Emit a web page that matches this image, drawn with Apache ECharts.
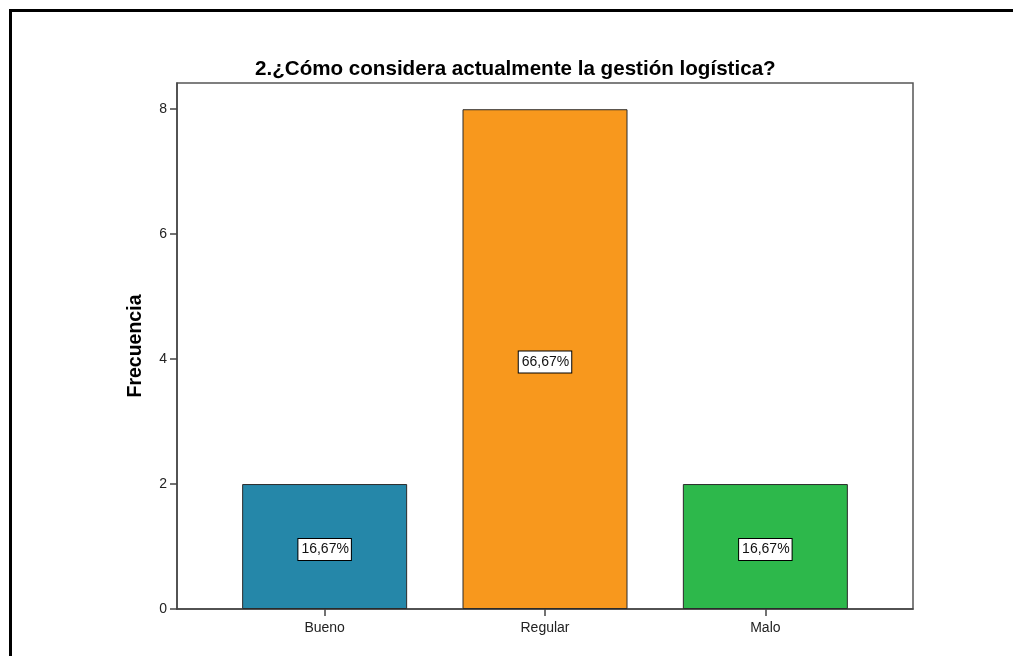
<!DOCTYPE html>
<html><head><meta charset="utf-8">
<script src="https://cdn.jsdelivr.net/npm/echarts@6/dist/echarts.min.js"></script>
<style>html,body{margin:0;padding:0;background:#fff}#c{width:1013px;height:656px}</style>
</head><body><div id="c"></div>
<script>
const title = '2.¿Cómo considera actualmente la gestión logística?';
const categories = ['Bueno', 'Regular', 'Malo'];
const frequencies = [2, 8, 2];
const percentLabels = ['16,67%', '66,67%', '16,67%'];
const barColors = ['#2587a9', '#f8981d', '#2db84b'];
const yTicks = [0, 2, 4, 6, 8];
const yAxisName = 'Frecuencia';

const chart = echarts.init(document.getElementById('c'), null, {renderer: 'canvas'});
const positions = categories.map((c, i) => i);
chart.setOption({
  animation: false,
  backgroundColor: '#fff',
  title: {
    text: title, left: 250, top: 54,
    textStyle: {fontFamily: 'Liberation Sans, Arial', fontWeight: 'bold', fontSize: 20.6, color: '#000'}
  },
  graphic: [{
    type: 'rect', shape: {x: 10.5, y: 10.5, width: 1012, height: 660},
    style: {fill: null, stroke: '#000', lineWidth: 3}, silent: true
  }],
  grid: {left: 177, right: 100, top: 83, bottom: 47, show: true, borderColor: '#555', borderWidth: 1.5, backgroundColor: 'transparent'},
  xAxis: {
    type: 'value', min: -0.67, max: 2.67,
    splitLine: {show: false},
    axisLine: {show: true, onZero: false, lineStyle: {color: '#444', width: 1.5}},
    axisTick: {show: true, customValues: positions, length: 7, lineStyle: {color: '#444', width: 1.5}},
    axisLabel: {customValues: positions, formatter: v => categories[Math.round(v)] || '', color: '#222', fontFamily: 'Liberation Sans, Arial', fontSize: 14, margin: 12}
  },
  yAxis: {
    type: 'value', min: 0, max: 8.42,
    name: yAxisName, nameLocation: 'middle', nameGap: 31,
    nameTextStyle: {fontFamily: 'Liberation Sans, Arial', fontWeight: 'bold', fontSize: 19.5, color: '#000'},
    splitLine: {show: false},
    axisLine: {show: true, onZero: false, lineStyle: {color: '#444', width: 1.5}},
    axisTick: {show: true, customValues: yTicks, length: 7, lineStyle: {color: '#444', width: 1.5}},
    axisLabel: {customValues: yTicks, color: '#222', fontFamily: 'Liberation Sans, Arial', fontSize: 14, margin: 10}
  },
  series: [{
    type: 'bar',
    barWidth: 165,
    data: frequencies.map((v, i) => ({
      value: [positions[i], v],
      itemStyle: {color: barColors[i], borderColor: '#2a2a2a', borderWidth: 1}
    })),
    label: {
      show: true, position: 'inside', offset: [0, 3],
      formatter: p => percentLabels[p.dataIndex],
      backgroundColor: '#fff', borderColor: '#000', borderWidth: 1,
      padding: [4, 2, 3, 3], color: '#111',
      fontFamily: 'Liberation Sans, Arial', fontSize: 14
    }
  }]
});
</script></body></html>
